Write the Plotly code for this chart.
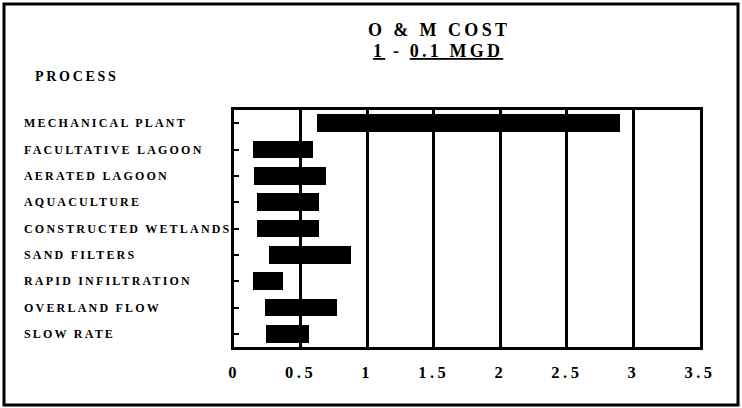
import plotly.graph_objects as go

# O & M cost ranges by treatment process (1 - 0.1 MGD)
processes = [
    "MECHANICAL PLANT",
    "FACULTATIVE LAGOON",
    "AERATED LAGOON",
    "AQUACULTURE",
    "CONSTRUCTED WETLANDS",
    "SAND FILTERS",
    "RAPID INFILTRATION",
    "OVERLAND FLOW",
    "SLOW RATE",
]
cost_low = [0.62, 0.14, 0.15, 0.17, 0.17, 0.26, 0.14, 0.23, 0.24]
cost_high = [2.90, 0.59, 0.69, 0.64, 0.64, 0.88, 0.37, 0.77, 0.56]
tick_values = [0, 0.5, 1, 1.5, 2, 2.5, 3, 3.5]
tick_labels = ["0", "0.5", "1", "1.5", "2", "2.5", "3", "3.5"]

W, H = 742, 408
L, R, T, B = 234, 42, 110, 61
PW, PH = W - L - R, H - T - B

FONT = "Liberation Serif, Times New Roman, serif"


def px_x(px):
    return (px - L) / PW


def px_y(py):
    return 1 - (py - T) / PH


def spaced(text, sp):
    return f'<span style="letter-spacing:{sp}px">{text}</span>'


fig = go.Figure()
fig.add_trace(
    go.Bar(
        y=processes,
        x=[h - l for l, h in zip(cost_low, cost_high)],
        base=cost_low,
        orientation="h",
        width=0.67,
        marker=dict(color="black", line=dict(width=0)),
        hoverinfo="skip",
    )
)

annotations = []
for name in processes:
    annotations.append(
        dict(
            x=px_x(22), xref="paper", xanchor="left",
            y=name, yref="y", yanchor="middle",
            text=spaced(name, 2.2), showarrow=False,
            font=dict(family=FONT, size=12, color="black", weight="bold"),
        )
    )

annotations += [
    dict(
        x=px_x(439), xref="paper", xanchor="center",
        y=px_y(29.5), yref="paper", yanchor="middle",
        text=spaced("O &amp; M COST", 3.4), showarrow=False,
        font=dict(family=FONT, size=18, color="black", weight="bold"),
    ),
    dict(
        x=px_x(438), xref="paper", xanchor="center",
        y=px_y(51), yref="paper", yanchor="middle",
        text='<span style="letter-spacing:3.2px">'
             '<span style="text-decoration:underline">1</span> - '
             '<span style="text-decoration:underline">0.1 MGD</span></span>',
        showarrow=False,
        font=dict(family=FONT, size=18, color="black", weight="bold"),
    ),
    dict(
        x=px_x(33), xref="paper", xanchor="left",
        y=px_y(76), yref="paper", yanchor="middle",
        text=spaced("PROCESS", 2.7), showarrow=False,
        font=dict(family=FONT, size=14, color="black", weight="bold"),
    ),
]

shapes = [
    # outer frame around the whole graphic
    dict(
        type="rect", xref="paper", yref="paper",
        x0=px_x(4), x1=px_x(738), y0=px_y(405), y1=px_y(4),
        line=dict(color="black", width=3), layer="above",
    ),
]

fig.update_layout(
    width=W, height=H,
    margin=dict(l=L, r=R, t=T, b=B, pad=0),
    paper_bgcolor="white", plot_bgcolor="white",
    showlegend=False,
    bargap=0,
    annotations=annotations,
    shapes=shapes,
    font=dict(family=FONT, color="black"),
    xaxis=dict(
        range=[0, 3.5],
        tickvals=tick_values,
        ticktext=[spaced(t, 3.5) for t in tick_labels],
        tickfont=dict(family=FONT, size=16.5, color="black", weight="bold"),
        ticks="",
        ticklabelstandoff=8,
        showgrid=True, gridcolor="black", gridwidth=3,
        zeroline=False,
        showline=True, linecolor="black", linewidth=3, mirror=True,
        fixedrange=True,
    ),
    yaxis=dict(
        categoryorder="array", categoryarray=processes,
        autorange="reversed",
        showticklabels=False,
        ticks="inside", ticklen=5, tickwidth=2, tickcolor="black",
        showgrid=False, zeroline=False,
        showline=True, linecolor="black", linewidth=3, mirror=True,
        fixedrange=True,
    ),
)

fig.write_html("out.html")
